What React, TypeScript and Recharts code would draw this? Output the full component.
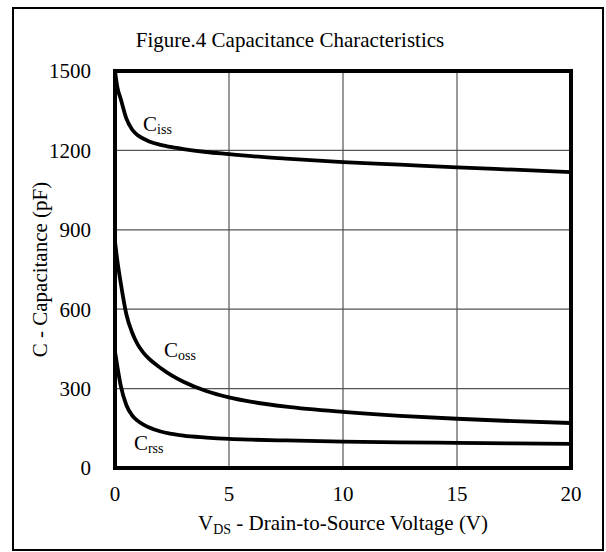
import React from "react";
import {
  LineChart,
  Line,
  XAxis,
  YAxis,
  CartesianGrid,
  ReferenceArea,
  ReferenceDot,
  Customized,
} from "recharts";

const title = "Figure.4 Capacitance Characteristics";
const xTicks = [0, 5, 10, 15, 20];
const yTicks = [0, 300, 600, 900, 1200, 1500];

const vds = [0, 0.1, 0.25, 0.5, 0.75, 1, 1.25, 1.5, 2, 2.5, 3, 4, 5, 6, 7.5, 10, 12.5, 15, 17.5, 20];
const ciss = [1500, 1440, 1395, 1320, 1279, 1257, 1244, 1234, 1221, 1212, 1205, 1194, 1186, 1178, 1169, 1156, 1146, 1136, 1127, 1118];
const coss = [855, 785, 700, 580, 512, 466, 435, 412, 378, 349, 326, 291, 267, 250, 232, 212, 197, 186, 177, 170];
const crss = [440, 385, 312, 237, 199, 178, 164, 153, 138, 129, 122, 115, 110, 107, 104, 100, 97, 95, 93, 91];

const curveLabels = [
  { main: "C", sub: "iss", x: 1.23, y: 1272 },
  { main: "C", sub: "oss", x: 2.15, y: 419 },
  { main: "C", sub: "rss", x: 0.83, y: 68 },
];

const FONT = "'Liberation Serif', 'Times New Roman', serif";

const toPts = (ys: number[]) => vds.map((x, i) => ({ x, y: ys[i] }));
const series = [
  { name: "Ciss", data: toPts(ciss) },
  { name: "Coss", data: toPts(coss) },
  { name: "Crss", data: toPts(crss) },
];

const makeLabelShape = (main: string, sub: string) => (props: any) => (
  <text
    x={props.cx}
    y={props.cy}
    fontFamily={FONT}
    fontSize={21}
    fill="#000"
    textAnchor="start"
  >
    <tspan>{main}</tspan>
    <tspan fontSize={14} dy={3}>
      {sub}
    </tspan>
  </text>
);

const XLabel = (props: any) => {
  const vb = props.viewBox || { x: 115, y: 468, width: 456, height: 84 };
  return (
    <text
      x={vb.x + vb.width / 2}
      y={vb.y + 62}
      textAnchor="middle"
      fontFamily={FONT}
      fontSize={21}
      fill="#000"
    >
      <tspan>V</tspan>
      <tspan fontSize={14} dy={4}>
        DS
      </tspan>
      <tspan dy={-4}> - Drain-to-Source Voltage (V)</tspan>
    </text>
  );
};

const YLabel = (props: any) => {
  const vb = props.viewBox || { x: 0, y: 71, width: 115, height: 397 };
  const cx = 47;
  const cy = vb.y + vb.height / 2;
  return (
    <text
      x={cx}
      y={cy}
      transform={`rotate(-90 ${cx} ${cy})`}
      textAnchor="middle"
      fontFamily={FONT}
      fontSize={21}
      fill="#000"
    >
      C - Capacitance (pF)
    </text>
  );
};

const Title = () => (
  <text x={290} y={47} textAnchor="middle" fontFamily={FONT} fontSize={21} fill="#000">
    {title}
  </text>
);

export default function App() {
  return (
    <div style={{ position: "absolute", left: 0, top: 0, width: 606, height: 552, background: "#fff" }}>
      <div
        style={{
          position: "absolute",
          left: 12,
          top: 7,
          width: 592,
          height: 544,
          border: "2px solid #000",
          boxSizing: "border-box",
          pointerEvents: "none",
        }}
      />
      <div style={{ position: "absolute", left: 0, top: 0 }}>
        <LineChart width={606} height={552} margin={{ top: 71, right: 35, bottom: 0, left: 0 }}>
          <CartesianGrid stroke="#555" strokeWidth={1.2} />
          <XAxis
            type="number"
            dataKey="x"
            domain={[0, 20]}
            ticks={xTicks}
            height={84}
            axisLine={false}
            tickLine={false}
            tickSize={0}
            tickMargin={18}
            tick={{ fontFamily: FONT, fontSize: 21, fill: "#000" }}
            label={<XLabel />}
            allowDataOverflow
          />
          <YAxis
            type="number"
            dataKey="y"
            domain={[0, 1500]}
            ticks={yTicks}
            width={115}
            axisLine={false}
            tickLine={false}
            tickSize={0}
            tickMargin={24}
            tick={{ fontFamily: FONT, fontSize: 21, fill: "#000" }}
            label={<YLabel />}
            allowDataOverflow
          />
          {series.map((s) => (
            <Line
              key={s.name}
              data={s.data}
              dataKey="y"
              type="monotone"
              stroke="#000"
              strokeWidth={3.8}
              dot={false}
              activeDot={false}
              isAnimationActive={false}
            />
          ))}
          <ReferenceArea
            x1={0}
            x2={20}
            y1={0}
            y2={1500}
            fill="none"
            stroke="#000"
            strokeWidth={4}
            ifOverflow="visible"
          />
          {curveLabels.map((l, i) => (
            <ReferenceDot
              key={i}
              x={l.x}
              y={l.y}
              r={0}
              ifOverflow="visible"
              shape={makeLabelShape(l.main, l.sub)}
            />
          ))}
          <Customized component={Title} />
        </LineChart>
      </div>
    </div>
  );
}
